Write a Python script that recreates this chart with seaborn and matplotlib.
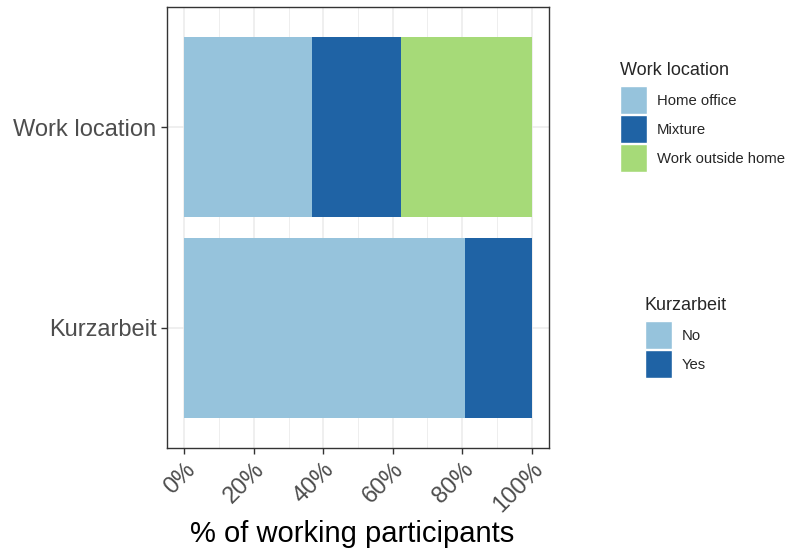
import pandas as pd
import numpy as np
import matplotlib.pyplot as plt
import seaborn as sns
from matplotlib.patches import Patch
from matplotlib.ticker import MultipleLocator

questions = ['Work location', 'Work location', 'Work location', 'Kurzarbeit', 'Kurzarbeit']
responses = ['Home office', 'Mixture', 'Work outside home', 'No', 'Yes']
shares = [36.7, 25.6, 37.7, 80.7, 19.3]
question_order = ['Work location', 'Kurzarbeit']
tick_values = [0, 20, 40, 60, 80, 100]

colors = {'Home office': '#96C3DC', 'Mixture': '#1F63A5', 'Work outside home': '#A6DA78',
          'No': '#96C3DC', 'Yes': '#1F63A5'}

df = pd.DataFrame({'question': questions, 'response': responses, 'share': shares})
df['cum'] = df.groupby('question')['share'].cumsum()

sns.set_style('white')
plt.rcParams['font.family'] = ['Liberation Sans', 'DejaVu Sans']

fig = plt.figure(figsize=(7.86, 5.54), dpi=100)
ax = fig.add_axes([167 / 786, 1 - 448 / 554, (549 - 167) / 786, (448 - 7) / 554])

# layered bars: longest cumulative first, so shorter segments sit on top
for _, row in df.sort_values('cum', ascending=False).iterrows():
    sns.barplot(data=row.to_frame().T.astype({'cum': float}), x='cum', y='question',
                order=question_order, color=colors[row['response']], saturation=1,
                width=0.9, linewidth=0, orient='h', ax=ax, zorder=3)

ax.set_xlim(-5, 105)
ax.set_ylim(1.6, -0.6)
ax.set_xticks(tick_values)
ax.set_xticklabels([f'{v}%' for v in tick_values])
ax.xaxis.set_minor_locator(MultipleLocator(10))
ax.grid(True, which='major', color='#EBEBEB', linewidth=1.1, zorder=0)
ax.grid(True, which='minor', axis='x', color='#EBEBEB', linewidth=0.6, zorder=0)
ax.set_axisbelow(True)
for s in ax.spines.values():
    s.set_color('#333333')
    s.set_linewidth(1.0)

ax.tick_params(axis='both', which='major', length=4, width=1.0, color='#333333',
               labelcolor='#4D4D4D', labelsize=17, bottom=True, left=True)
ax.tick_params(axis='x', which='minor', length=0)
for lab in ax.get_xticklabels():
    lab.set_rotation(45)
    lab.set_ha('right')
    lab.set_va('top')
    lab.set_rotation_mode('anchor')
ax.set_ylabel('')
ax.set_xlabel('% of working participants', fontsize=21, color='black')
ax.xaxis.set_label_coords(0.485, -0.164)

leg_kw = dict(frameon=False, fontsize=10.7, title_fontsize=13, handlelength=1.85,
              handleheight=2.55, labelspacing=0.05, handletextpad=0.62, alignment='left',
              borderaxespad=0, borderpad=0)

h1 = [Patch(facecolor=colors[r], edgecolor='white', linewidth=1)
      for r in ['Home office', 'Mixture', 'Work outside home']]
leg1 = fig.legend(h1, ['Home office', 'Mixture', 'Work outside home'], title='Work location',
                  loc='upper left', bbox_to_anchor=(620 / 786, 1 - 62 / 554), **leg_kw)
h2 = [Patch(facecolor=colors[r], edgecolor='white', linewidth=1) for r in ['No', 'Yes']]
leg2 = fig.legend(h2, ['No', 'Yes'], title='Kurzarbeit',
                  loc='upper left', bbox_to_anchor=(645 / 786, 1 - 297 / 554), **leg_kw)
for leg in (leg1, leg2):
    leg._legend_box.sep = 5

fig.savefig('out.png', dpi=100)
